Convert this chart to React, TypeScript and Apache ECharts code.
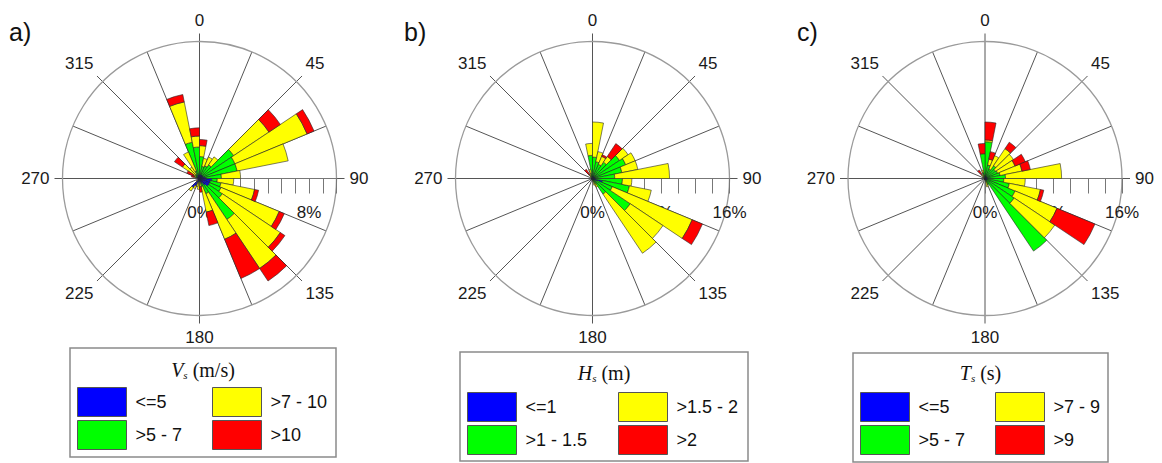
import React, { useEffect, useRef } from "react";
import * as echarts from "echarts";

// 32 direction sectors of 11.25 degrees, labelled by their centre (degrees from north, clockwise)
const DIRECTIONS = [
  "5.6", "16.9", "28.1", "39.4", "50.6", "61.9", "73.1", "84.4",
  "95.6", "106.9", "118.1", "129.4", "140.6", "151.9", "163.1", "174.4",
  "185.6", "196.9", "208.1", "219.4", "230.6", "241.9", "253.1", "264.4",
  "275.6", "286.9", "298.1", "309.4", "320.6", "331.9", "343.1", "354.4",
];

// a) wind speed Vs (m/s): frequency (%) of each class per direction
const VS_CLASSES = ["<=5", ">5 - 7", ">7 - 10", ">10"];
const VS_LE5 = [0.3, 0.3, 0.3, 0.3, 0.3, 0.3, 0.4, 0.5, 0.9, 0.8, 0.8, 0.8, 0.6, 0.4, 0.3, 0.2, 0.2, 0.3, 0.6, 0.8, 0.2, 0.1, 0.1, 0.1, 0.1, 0.2, 0.2, 0.2, 0.2, 0.3, 0.3, 0.3];
const VS_5_7 = [1.3, 0.6, 0.7, 0.9, 2.7, 2.5, 2.4, 1.1, 0.4, 0.8, 0.9, 1.2, 3.0, 0.8, 0.3, 0.1, 0.1, 0, 0, 0, 0, 0, 0, 0, 0, 0.1, 0.1, 0.2, 0.2, 0.3, 2.4, 2.0];
const VS_7_10 = [0.8, 0.6, 0.7, 0.7, 3.1, 5.7, 3.8, 1.4, 1.2, 2.5, 4.6, 5.1, 4.3, 3.6, 1.9, 0.3, 0.5, 0.3, 0.2, 0.3, 0.1, 0, 0, 0, 0, 0.1, 0.2, 1.1, 0.6, 1.5, 3.0, 0.8];
const VS_GT10 = [0.45, 0, 0, 0, 1.0, 0.55, 0, 0, 0, 0.3, 0.4, 0.4, 1.1, 3.1, 1.0, 0.4, 0, 0, 0, 0, 0, 0, 0, 0, 0, 0.2, 0.5, 0.7, 0, 0, 0.55, 0.6];

// b) wave height Hs (m)
const HS_CLASSES = ["<=1", ">1 - 1.5", ">1.5 - 2", ">2"];
const HS_LE1 = [0.3, 0.3, 0.3, 0.3, 0.3, 0.3, 0.3, 0.3, 0.4, 1.2, 0.6, 0.3, 0.3, 0.2, 0.2, 0.1, 0.1, 0.1, 0.1, 0.1, 0.1, 0.1, 0.1, 0.1, 0.1, 0.1, 0.1, 0.1, 0.1, 0.2, 0.2, 0.3];
const HS_1_15 = [2.2, 1.7, 1.5, 2.0, 3.5, 3.9, 3.2, 2.3, 3.1, 3.2, 1.9, 5.0, 1.9, 0.5, 0.2, 0.1, 0, 0, 0, 0, 0, 0, 0, 0, 0, 0, 0, 0.1, 0.2, 0.2, 0.4, 2.4];
const HS_15_2 = [4.1, 1.2, 1.0, 0.8, 1.2, 1.2, 1.9, 6.4, 1.1, 2.6, 10.1, 4.6, 8.3, 0.4, 0.4, 0.1, 0, 0, 0, 0, 0, 0, 0, 0, 0, 0, 0, 0.1, 0.3, 0.2, 0.5, 1.4];
const HS_GT2 = [0, 0, 0.2, 1.8, 0, 0, 0, 0, 0, 0, 1.3, 0, 0, 0, 0, 0, 0, 0, 0, 0, 0, 0, 0, 0, 0, 0, 0, 0, 0.7, 0, 0, 0];

// c) wave period Ts (s)
const TS_CLASSES = ["<=5", ">5 - 7", ">7 - 9", ">9"];
const TS_LE5 = [0.3, 0.3, 0.3, 0.3, 0.3, 0.3, 0.3, 0.3, 0.3, 0.3, 0.3, 0.3, 0.3, 0.2, 0.2, 0.1, 0.1, 0.1, 0.1, 0.1, 0.1, 0.1, 0.1, 0.1, 0.1, 0.1, 0.1, 0.1, 0.1, 0.2, 0.2, 0.3];
const TS_5_7 = [4.0, 1.3, 0.9, 1.5, 1.2, 1.3, 1.5, 2.1, 1.9, 2.6, 3.5, 3.8, 9.9, 0.6, 0.2, 0, 0, 0, 0, 0, 0, 0, 0, 0, 0, 0, 0, 0.1, 0.2, 0.2, 0.5, 2.6];
const TS_7_9 = [0.2, 0.7, 1.7, 2.4, 2.5, 2.2, 2.6, 6.55, 2.5, 3.7, 5.3, 5.7, 0, 0, 0.6, 0, 0, 0, 0, 0, 0, 0, 0, 0, 0, 0, 0, 0.1, 0.3, 0.1, 0.3, 0];
const TS_GT9 = [2.1, 0.9, 0, 0.9, 0, 1.3, 1.0, 0, 0, 0.4, 4.8, 0, 0, 0, 0, 0, 0, 0, 0, 0, 0, 0, 0, 0, 0, 0, 0, 0, 0.6, 0, 0, 1.2];

// radial (percentage) axes
const RADIAL_MAX = [10, 16, 16];
const RADIAL_STEP = [1, 2, 2];
const RADIAL_LABELS = [[0, 8], [0, 8, 16], [0, 8, 16]];
const ANGLE_STEP = 45;

const TITLES = ["{v|V}{s|s}{u| (m/s)}", "{v|H}{s|s}{u| (m)}", "{v|T}{s|s}{u| (s)}"];
const LETTERS = ["a)", "b)", "c)"];

const PANELS = [
  { classes: VS_CLASSES, values: [VS_LE5, VS_5_7, VS_7_10, VS_GT10] },
  { classes: HS_CLASSES, values: [HS_LE1, HS_1_15, HS_15_2, HS_GT2] },
  { classes: TS_CLASSES, values: [TS_LE5, TS_5_7, TS_7_9, TS_GT9] },
];

// layout / style
const COLORS = ["#0000ff", "#00ff00", "#ffff00", "#ff0000"];
const SANS = "'Liberation Sans', Arial, sans-serif";
const SERIF = "'Liberation Serif', 'Times New Roman', serif";
const RADIUS = 137;
const LAYOUT = [
  { cx: 199.5, cy: 178.5, letterX: 9, box: [70, 348, 266, 109], titleX: 203, titleY: 370, legendLeft: [77, 212], legendTop: 387 },
  { cx: 592.5, cy: 178.5, letterX: 404, box: [460, 352, 288, 109], titleX: 604, titleY: 373, legendLeft: [467, 618], legendTop: 392 },
  { cx: 985, cy: 178.5, letterX: 797, box: [853, 353, 255, 109], titleX: 980.5, titleY: 373, legendLeft: [860, 995], legendTop: 392 },
];

function buildOption() {
  const polar: any[] = [];
  const angleAxis: any[] = [];
  const radiusAxis: any[] = [];
  const series: any[] = [];
  const grid: any[] = [];
  const xAxis: any[] = [];
  const yAxis: any[] = [];
  const legend: any[] = [];
  const graphic: any[] = [];

  const hiddenRadius = (polarIndex: number, max: number) => ({
    polarIndex,
    type: "value",
    min: 0,
    max,
    show: false,
    axisLine: { show: false },
    axisTick: { show: false },
    axisLabel: { show: false },
    splitLine: { show: false },
    splitArea: { show: false },
  });

  PANELS.forEach((panel, i) => {
    const L = LAYOUT[i];
    const base = i * 3;
    const center = [L.cx, L.cy];

    // data polar
    polar.push({ center, radius: RADIUS });
    angleAxis.push({
      polarIndex: base,
      type: "category",
      data: DIRECTIONS,
      startAngle: 90,
      clockwise: true,
      boundaryGap: true,
      axisLine: { show: false },
      axisTick: { show: false },
      axisLabel: { show: false },
      splitLine: { show: false },
    });
    radiusAxis.push(hiddenRadius(base, RADIAL_MAX[i]));

    // circle, compass labels, short extensions of the main spokes
    polar.push({ center, radius: RADIUS });
    angleAxis.push({
      polarIndex: base + 1,
      type: "value",
      min: 0,
      max: 360,
      interval: ANGLE_STEP,
      startAngle: 90,
      clockwise: true,
      axisLine: { show: true, lineStyle: { color: "#9a9a9a", width: 1.3 } },
      axisTick: { show: true, length: 8, lineStyle: { color: "#555", width: 1 } },
      axisLabel: {
        show: true,
        margin: 13,
        fontSize: 17,
        fontFamily: SANS,
        color: "#1a1a1a",
        formatter: (v: number) => (v >= 360 ? "" : String(v)),
      },
      splitLine: { show: false },
    });
    radiusAxis.push(hiddenRadius(base + 1, 1));

    // 16 spokes
    polar.push({ center, radius: RADIUS });
    angleAxis.push({
      polarIndex: base + 2,
      type: "value",
      min: 0,
      max: 360,
      interval: ANGLE_STEP / 2,
      startAngle: 90,
      clockwise: true,
      axisLine: { show: false },
      axisTick: { show: false },
      axisLabel: { show: false },
      splitLine: { show: true, lineStyle: { color: "#555", width: 1 } },
    });
    radiusAxis.push(hiddenRadius(base + 2, 1));

    // percentage scale along the east direction
    grid.push({ left: L.cx, top: L.cy - 1, width: RADIUS, height: 1, containLabel: false, outerBoundsMode: "none" });
    const labels = RADIAL_LABELS[i];
    xAxis.push({
      gridIndex: i,
      type: "value",
      min: 0,
      max: RADIAL_MAX[i],
      interval: RADIAL_STEP[i],
      position: "bottom",
      axisLine: { show: true, onZero: false, lineStyle: { color: "#777", width: 1 } },
      axisTick: { show: true, length: 15, inside: false, lineStyle: { color: "#777", width: 1 } },
      axisLabel: {
        show: true,
        margin: 25,
        fontSize: 17,
        fontFamily: SANS,
        color: "#1a1a1a",
        showMinLabel: true,
        showMaxLabel: true,
        formatter: (v: number) => (labels.indexOf(v) >= 0 ? v + "%" : ""),
      },
      splitLine: { show: false },
    });
    yAxis.push({ gridIndex: i, type: "value", min: 0, max: 1, show: false, splitLine: { show: false } });

    // stacked bars
    panel.values.forEach((vals, j) => {
      series.push({
        type: "bar",
        name: panel.classes[j],
        coordinateSystem: "polar",
        polarIndex: base,
        stack: "panel" + i,
        barCategoryGap: "0%",
        data: vals.map((v) => (v > 0 ? v : "-")),
        itemStyle: { color: COLORS[j], borderColor: "#262626", borderWidth: 0.6 },
        silent: true,
        z: 3,
      });
    });

    // legends: two columns
    [0, 1].forEach((col) => {
      legend.push({
        orient: "vertical",
        left: L.legendLeft[col],
        top: L.legendTop,
        padding: 0,
        itemGap: 3,
        itemWidth: 49,
        itemHeight: 29,
        icon: "rect",
        selectedMode: false,
        data: col === 0 ? [panel.classes[0], panel.classes[1]] : [panel.classes[2], panel.classes[3]],
        itemStyle: { borderColor: "#555", borderWidth: 1 },
        textStyle: { fontSize: 18, fontFamily: SANS, color: "#111", padding: [0, 0, 0, 4] },
      });
    });

    // legend box + title
    graphic.push({
      type: "rect",
      shape: { x: L.box[0], y: L.box[1], width: L.box[2], height: L.box[3] },
      style: { fill: "none", stroke: "#8a8a8a", lineWidth: 1.5 },
      silent: true,
    });
    graphic.push({
      type: "text",
      x: L.titleX,
      y: L.titleY,
      silent: true,
      style: {
        text: TITLES[i],
        align: "center",
        verticalAlign: "middle",
        textAlign: "center",
        textVerticalAlign: "middle",
        rich: {
          v: { fontFamily: SERIF, fontStyle: "italic", fontSize: 20, fill: "#111" },
          s: { fontFamily: SERIF, fontStyle: "italic", fontSize: 11, fill: "#111", verticalAlign: "bottom" },
          u: { fontFamily: SERIF, fontSize: 20, fill: "#111" },
        },
      },
    });
    graphic.push({
      type: "text",
      x: L.letterX,
      y: 32,
      silent: true,
      style: {
        text: LETTERS[i],
        font: "25px " + SANS,
        fill: "#111",
        align: "left",
        verticalAlign: "middle",
        textAlign: "left",
        textVerticalAlign: "middle",
      },
    });
  });

  return {
    animation: false,
    backgroundColor: "#ffffff",
    polar,
    angleAxis,
    radiusAxis,
    grid,
    xAxis,
    yAxis,
    legend,
    series,
    graphic,
  };
}

export default function App() {
  const ref = useRef<HTMLDivElement>(null);
  useEffect(() => {
    if (!ref.current) return;
    const chart = echarts.init(ref.current, undefined, { renderer: "svg" });
    chart.setOption(buildOption() as any);
    return () => chart.dispose();
  }, []);
  return (
    <div
      ref={ref}
      style={{ position: "absolute", left: 0, top: 0, width: 1162, height: 463, background: "#fff" }}
    />
  );
}
